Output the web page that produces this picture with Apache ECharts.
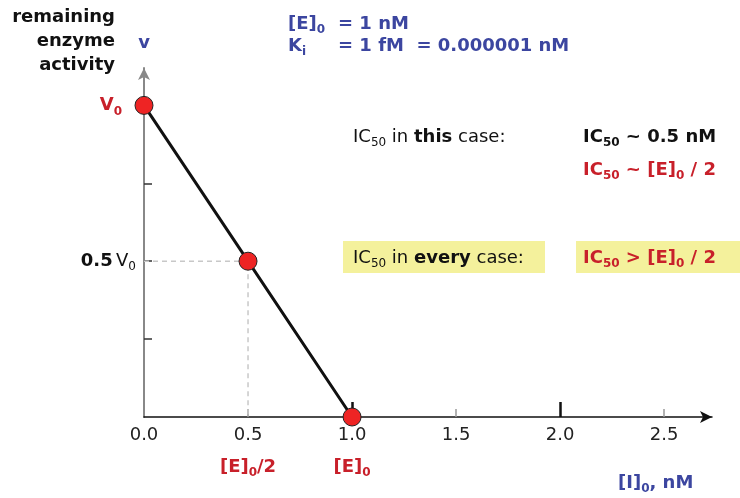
<!DOCTYPE html>
<html>
<head>
<meta charset="utf-8">
<script src="https://cdn.jsdelivr.net/npm/echarts@6/dist/echarts.min.js"></script>
<style>
  html, body { margin: 0; padding: 0; background: #fff; }
  #chart { width: 740px; height: 498px; }
</style>
</head>
<body>
<div id="chart"></div>
<script>
// inhibitor concentration [I]0 (nM) vs remaining activity (fraction of V0)
const inhibitor = [0, 0.5, 1.0];
const activity = [1.0, 0.5, 0];
// dashed guide through the half-activity point
const guideX = [0, 0.5, 0.5];
const guideY = [0.5, 0.5, 0];
const minorTicksX = [0.5, 1.5, 2.5];
const majorTicksX = [1, 2];
const labelsX = [0, 0.5, 1, 1.5, 2, 2.5];
const markerAt = [0.5, 1.0];
const markerText = ['{rb|[E]}{rbs|0}{rb|/2}', '{rb|[E]}{rbs|0}'];
const ticksY = [0.25, 0.5, 0.75];

const FONT = '"DejaVu Sans", Verdana, sans-serif';
const RED = '#c8202a';
const BLUE = '#3c46a0';
const BLACK = '#111';
const YELLOW = '#f4f19c';

// rich styles for graphic texts: colour (k/r/u) + weight (n/b), plus 's' for subscript
// (graphic elements take zrender styles, so colour goes in "fill")
const rich = {};
[['k', BLACK], ['r', RED], ['u', BLUE]].forEach(([c, col]) => {
  [['n', 'normal'], ['b', 'bold']].forEach(([w, weight]) => {
    rich[c + w] = { fontFamily: FONT, fontSize: 18, fontWeight: weight, fill: col, lineHeight: 24 };
    rich[c + w + 's'] = { fontFamily: FONT, fontSize: 12, fontWeight: weight, fill: col, lineHeight: 10, verticalAlign: 'bottom' };
  });
});

function txt(x, y, text, align, extra) {
  return {
    type: 'text', x: x, y: y, z: 10,
    style: Object.assign({ text: text, rich: rich, textAlign: align || 'left', textVerticalAlign: 'middle' }, extra || {})
  };
}

const chart = echarts.init(document.getElementById('chart'));

const option = {
  animation: false,
  grid: { left: 144, right: 28, top: 68, bottom: 81 },
  xAxis: [{
    type: 'value', position: 'bottom', min: 0, max: 2.73, interval: 0.5,
    axisLine: { lineStyle: { color: BLACK, width: 1.5 }, symbol: ['none', 'arrow'], symbolSize: [9, 12] },
    axisTick: { inside: true, length: 8, customValues: minorTicksX, lineStyle: { color: '#999', width: 1.5 } },
    splitLine: { show: false },
    axisLabel: {
      margin: 9,
      customValues: labelsX,
      formatter: v => v.toFixed(1),
      fontFamily: FONT, fontSize: 18, color: '#222'
    }
  }, {
    type: 'value', position: 'bottom', min: 0, max: 2.73, interval: 1,
    axisLine: { show: false },
    axisTick: { inside: true, length: 15, customValues: majorTicksX, lineStyle: { color: BLACK, width: 2.5 } },
    axisLabel: { show: false },
    splitLine: { show: false }
  }],
  yAxis: {
    type: 'value', min: 0, max: 1.12, interval: 0.25,
    axisLine: { lineStyle: { color: '#888', width: 2 }, symbol: ['none', 'arrow'], symbolSize: [9, 12] },
    axisTick: { inside: true, length: 8, customValues: ticksY, lineStyle: { color: '#333', width: 1.5 } },
    splitLine: { show: false },
    axisLabel: {
      margin: 8,
      customValues: [0.5, 1],
      formatter: function (v) {
        if (v === 0.5) return '{b|0.5} {t|V}{ts|0}';
        if (v === 1) return '{rv|V}{rvs|0}';
        return '';
      },
      rich: {
        b: { fontFamily: FONT, fontSize: 18, fontWeight: 'bold', color: BLACK, lineHeight: 24 },
        t: { fontFamily: FONT, fontSize: 18, color: BLACK, lineHeight: 24 },
        ts: { fontFamily: FONT, fontSize: 12, color: BLACK, lineHeight: 10, verticalAlign: 'bottom' },
        rv: { fontFamily: FONT, fontSize: 18, fontWeight: 'bold', color: RED, lineHeight: 24 },
        rvs: { fontFamily: FONT, fontSize: 12, fontWeight: 'bold', color: RED, lineHeight: 10, verticalAlign: 'bottom', padding: [0, 14, 0, 0] }
      }
    }
  },
  series: [{
    type: 'line',
    z: 1,
    data: guideX.map((x, i) => [x, guideY[i]]),
    symbol: 'none',
    lineStyle: { color: '#c8c8c8', width: 1.5, type: [5, 4] },
    silent: true
  }, {
    type: 'line',
    z: 3,
    data: inhibitor.map((x, i) => [x, activity[i]]),
    symbol: 'circle',
    symbolSize: 18,
    showAllSymbol: true,
    lineStyle: { color: BLACK, width: 3 },
    itemStyle: { color: '#ee2424', borderColor: '#222', borderWidth: 1 }
  }],
  graphic: [
    txt(115, 41, '{kb|remaining}\n{kb|enzyme}\n{kb|activity}', 'right', { lineHeight: 23 }),
    txt(144, 43, '{ub|v}', 'center'),
    txt(288, 24, '{ub|[E]}{ubs|0}'),
    txt(338, 24, '{ub|= 1 nM}'),
    txt(288, 46, '{ub|K}{ubs|i}'),
    txt(338, 46, '{ub|= 1 fM  = 0.000001 nM}'),
    txt(353, 137, '{kn|IC}{kns|50}{kn| in }{kb|this}{kn| case:}'),
    txt(583, 137, '{kb|IC}{kbs|50}{kb| ~ 0.5 nM}'),
    txt(583, 170, '{rb|IC}{rbs|50}{rb| ~ [E]}{rbs|0}{rb| / 2}'),
    { type: 'rect', shape: { x: 343, y: 241, width: 202, height: 32 }, style: { fill: YELLOW }, z: 5 },
    { type: 'rect', shape: { x: 576, y: 241, width: 164, height: 32 }, style: { fill: YELLOW }, z: 5 },
    txt(353, 258, '{kn|IC}{kns|50}{kn| in }{kb|every}{kn| case:}'),
    txt(583, 258, '{rb|IC}{rbs|50}{rb| > [E]}{rbs|0}{rb| / 2}'),
    txt(618, 483, '{ub|[I]}{ubs|0}{ub|, nM}')
  ]
};

chart.setOption(option);

// red markers under the x axis, placed through the x scale
const markers = markerAt.map((v, i) => {
  const px = chart.convertToPixel({ xAxisIndex: 0 }, v);
  return txt(px, 467, markerText[i], 'center');
});
chart.setOption({ graphic: option.graphic.concat(markers) });
</script>
</body>
</html>
